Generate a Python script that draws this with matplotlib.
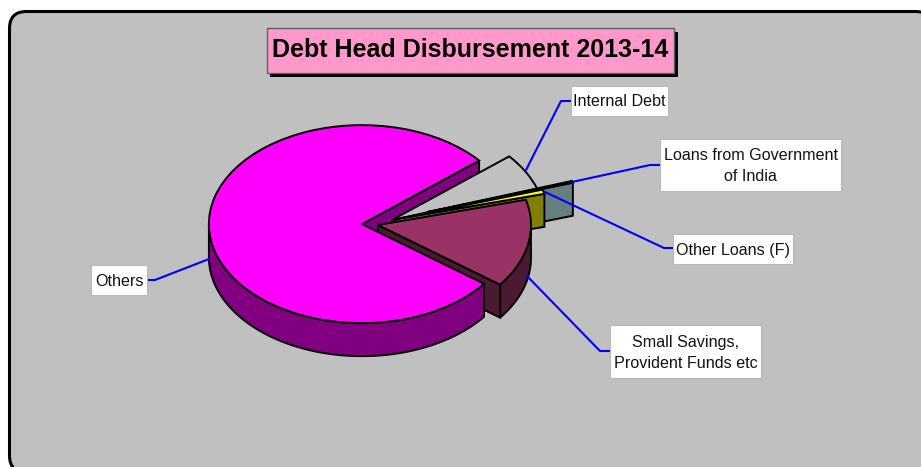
"""
Debt head disbursement 2013-14, old spreadsheet style exploded 3D pie.
"""

import numpy as np
import matplotlib
matplotlib.use("Agg")
import matplotlib.pyplot as plt
from matplotlib.patches import FancyBboxPatch, Polygon, Rectangle

plt.rcParams['font.family'] = ['Liberation Sans', 'DejaVu Sans']

# share of each debt head, percent, clockwise from the start angle
heads = ["Internal Debt", "Loans from Government\nof India", "Other Loans (F)",
         "Small Savings,\nProvident Funds etc", "Others"]
shares = [6.0, 0.3, 0.7, 14.4, 78.6]
explode = [0.16, 0.39, 0.18, 0.053, 0.053]
top_colors = ['#C0C0C0', '#CCFFFF', '#FFFF00', '#993366', '#FF00FF']
side_colors = ['#606060', '#668080', '#808000', '#4C1933', '#800080']
title = "Debt Head Disbursement 2013-14"

W, H = 921, 467
CX, CY = 370, 224    # pie centre in pixels
RX, RY = 153, 99     # pie radii in pixels
DEPTH = 33 / RY
LW = 1.4

# label box (left, top, right, bottom) and leader line, in pixels
boxes = [(571, 86, 668, 116), (660, 139, 841, 191), (673, 234, 793, 264),
         (610, 325, 761, 378), (91, 265, 147, 295)]
leaders = [[(526, 170), (561, 101), (571, 101)],
           [(572, 182), (650, 165), (660, 165)],
           [(545, 192), (664, 248), (673, 248)],
           [(527, 276), (600, 351), (610, 351)],
           [(209, 259), (155, 280), (147, 280)]]

fig = plt.figure(figsize=(W / 100, H / 100), dpi=100, facecolor='white')

# background panel, pixel coordinates
bg = fig.add_axes([0, 0, 1, 1], zorder=0)
bg.set_xlim(0, W)
bg.set_ylim(H, 0)
bg.axis('off')
bg.add_patch(FancyBboxPatch((26.5, 28.5), 889, 427, boxstyle="round,pad=17,rounding_size=17",
                            fc='#C0C0C0', ec='black', lw=2.2))

# pie axes: one data unit is RX pixels wide and RY pixels high, so circles become ellipses
ax = fig.add_axes([0, 0, 1, 1], zorder=1)
wedges, _ = ax.pie(shares, explode=explode, colors=top_colors, startangle=40, counterclock=False,
                   wedgeprops={'edgecolor': 'black', 'linewidth': LW})
ax.set_aspect('auto')
ax.set_xlim(-CX / RX, (W - CX) / RX)
ax.set_ylim((CY - H) / RY, CY / RY)
ax.patch.set_alpha(0)

# internal debt slice sits lower than its radial explode would put it
wedges[0].set_center((22 / RX, 4 / RY))


def point(w, deg):
    return (w.center[0] + w.r * np.cos(np.radians(deg)), w.center[1] + w.r * np.sin(np.radians(deg)))


def draw_sides(w, color, wall_z, cut_z):
    cx, cy = w.center
    # outer wall, only the part facing the viewer
    t = np.linspace(w.theta1, w.theta2, 400)
    t = t[np.sin(np.radians(t)) <= 0]
    if len(t) > 1:
        x = cx + w.r * np.cos(np.radians(t))
        y = cy + w.r * np.sin(np.radians(t))
        pts = list(zip(x, y)) + list(zip(x[::-1], y[::-1] - DEPTH))
        ax.add_patch(Polygon(pts, fc=color, ec='black', lw=LW, zorder=wall_z))
    # cut faces
    if np.cos(np.radians(w.theta1)) > 0:
        ex, ey = point(w, w.theta1)
        ax.add_patch(Polygon([(cx, cy), (ex, ey), (ex, ey - DEPTH), (cx, cy - DEPTH)],
                             fc=color, ec='black', lw=LW, zorder=cut_z))
    if np.cos(np.radians(w.theta2)) < 0:
        ex, ey = point(w, w.theta2)
        ax.add_patch(Polygon([(cx, cy), (ex, ey), (ex, ey - DEPTH), (cx, cy - DEPTH)],
                             fc=color, ec='black', lw=LW, zorder=cut_z))


# painter's order: Others cut face, thin slice walls, savings walls, Others, thin tops, savings top
wall_z = [0.5, 0.95, 0.97, 1, 2]
cut_z = [0.5, 0.95, 0.97, 1, 0.4]
top_z = [3.1, 3.3, 3.5, 4, 2.1]
for w, c, wz, cz, tz in zip(wedges, side_colors, wall_z, cut_z, top_z):
    draw_sides(w, c, wz, cz)
    w.set_zorder(tz)

# title, labels and leaders on top
fg = fig.add_axes([0, 0, 1, 1], zorder=2)
fg.set_xlim(0, W)
fg.set_ylim(H, 0)
fg.axis('off')
fg.add_patch(Rectangle((270, 32), 408, 45, fc='black', ec='none'))
fg.add_patch(Rectangle((266.5, 27.5), 407, 45, fc='#FF99CC', ec='#606060', lw=1))
fg.text(470, 50, title, ha='center', va='center', fontsize=18, fontweight='bold', color='black')

for name, (l, t, r, b), line in zip(heads, boxes, leaders):
    xs, ys = zip(*line)
    fg.plot(xs, ys, color='#0000FF', lw=1.5, solid_joinstyle='round')
    fg.add_patch(Rectangle((l, t), r - l, b - t, fc='white', ec='#B8B8B8', lw=0.8, zorder=3))
    fg.text((l + r) / 2, (t + b) / 2 + 1, name, ha='center', va='center', fontsize=11.6,
            color='#111111', linespacing=1.5, zorder=4)

fig.savefig('out.png', dpi=100, facecolor='white')
